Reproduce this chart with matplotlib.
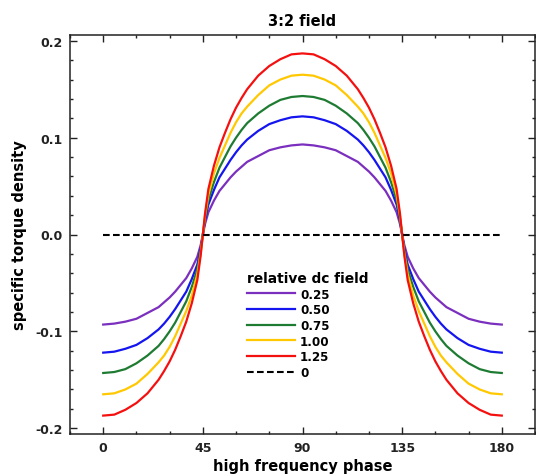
import matplotlib
matplotlib.use("Agg")
import matplotlib.pyplot as plt
from matplotlib.ticker import MultipleLocator, FormatStrFormatter

plt.rcParams['font.family'] = ['DejaVu Sans']
plt.rcParams['font.weight'] = 'bold'
plt.rcParams['axes.unicode_minus'] = False

phase = [0, 5, 10, 15, 20, 25, 27.5, 30, 32.5, 35, 37.5, 40, 42.5, 44, 45,
         46, 47.5, 50, 52.5, 55, 57.5, 60, 62.5, 65, 70, 75, 80, 85, 90,
         95, 100, 105, 110, 115, 117.5, 120, 122.5, 125, 127.5, 130, 132.5, 134,
         135,
         136, 137.5, 140, 142.5, 145, 147.5, 150, 152.5, 155, 160, 165, 170, 175, 180]

torque_025 = [-0.093, -0.092, -0.090, -0.087, -0.081, -0.075, -0.070, -0.065, -0.059, -0.052, -0.045, -0.035, -0.023, -0.011, 0.0,
              0.011, 0.023, 0.035, 0.045, 0.052, 0.059, 0.065, 0.070, 0.075, 0.081, 0.087, 0.090, 0.092, 0.093,
              0.092, 0.090, 0.087, 0.081, 0.075, 0.070, 0.065, 0.059, 0.052, 0.045, 0.035, 0.023, 0.011,
              0.0,
              -0.011, -0.023, -0.035, -0.045, -0.052, -0.059, -0.065, -0.070, -0.075, -0.081, -0.087, -0.090, -0.092, -0.093]
torque_050 = [-0.122, -0.121, -0.118, -0.114, -0.107, -0.098, -0.092, -0.085, -0.077, -0.068, -0.059, -0.046, -0.031, -0.015, 0.0,
              0.015, 0.031, 0.046, 0.059, 0.068, 0.077, 0.085, 0.092, 0.098, 0.107, 0.114, 0.118, 0.121, 0.122,
              0.121, 0.118, 0.114, 0.107, 0.098, 0.092, 0.085, 0.077, 0.068, 0.059, 0.046, 0.031, 0.015,
              0.0,
              -0.015, -0.031, -0.046, -0.059, -0.068, -0.077, -0.085, -0.092, -0.098, -0.107, -0.114, -0.118, -0.121, -0.122]
torque_075 = [-0.143, -0.142, -0.139, -0.133, -0.125, -0.115, -0.108, -0.100, -0.091, -0.080, -0.069, -0.054, -0.036, -0.017, 0.0,
              0.017, 0.036, 0.054, 0.069, 0.080, 0.091, 0.100, 0.108, 0.115, 0.125, 0.133, 0.139, 0.142, 0.143,
              0.142, 0.139, 0.133, 0.125, 0.115, 0.108, 0.100, 0.091, 0.080, 0.069, 0.054, 0.036, 0.017,
              0.0,
              -0.017, -0.036, -0.054, -0.069, -0.080, -0.091, -0.100, -0.108, -0.115, -0.125, -0.133, -0.139, -0.142, -0.143]
torque_100 = [-0.165, -0.164, -0.160, -0.154, -0.144, -0.132, -0.125, -0.116, -0.105, -0.092, -0.079, -0.063, -0.041, -0.020, 0.0,
              0.020, 0.041, 0.063, 0.079, 0.092, 0.105, 0.116, 0.125, 0.132, 0.144, 0.154, 0.160, 0.164, 0.165,
              0.164, 0.160, 0.154, 0.144, 0.132, 0.125, 0.116, 0.105, 0.092, 0.079, 0.063, 0.041, 0.020,
              0.0,
              -0.020, -0.041, -0.063, -0.079, -0.092, -0.105, -0.116, -0.125, -0.132, -0.144, -0.154, -0.160, -0.164, -0.165]
torque_125 = [-0.187, -0.186, -0.181, -0.174, -0.164, -0.150, -0.141, -0.131, -0.119, -0.105, -0.090, -0.071, -0.047, -0.022, 0.0,
              0.022, 0.047, 0.071, 0.090, 0.105, 0.119, 0.131, 0.141, 0.150, 0.164, 0.174, 0.181, 0.186, 0.187,
              0.186, 0.181, 0.174, 0.164, 0.150, 0.141, 0.131, 0.119, 0.105, 0.090, 0.071, 0.047, 0.022,
              0.0,
              -0.022, -0.047, -0.071, -0.090, -0.105, -0.119, -0.131, -0.141, -0.150, -0.164, -0.174, -0.181, -0.186, -0.187]

zero_phase = [0, 180]
zero_torque = [0.0, 0.0]

labels = ['0.25', '0.50', '0.75', '1.00', '1.25']
colors = ['#7B2FBE', '#1515F0', '#1E7B32', '#FFC800', '#F51010']
series = [torque_025, torque_050, torque_075, torque_100, torque_125]

fig = plt.figure(figsize=(5.36, 4.77), dpi=100)
ax = fig.add_axes([70/536, 1-435/477, (535-70)/536, (435-36)/477])

for vals, lab, col in zip(series, labels, colors):
    ax.plot(phase, vals, color=col, lw=1.6, label=lab)
ax.plot(zero_phase, zero_torque, color='black', lw=1.5, dashes=(3.2, 1.6), label='0')

ax.set_xlim(-15, 195)
ax.set_ylim(-0.206, 0.206)
ax.xaxis.set_major_locator(MultipleLocator(45))
ax.xaxis.set_minor_locator(MultipleLocator(15))
ax.yaxis.set_major_locator(MultipleLocator(0.1))
ax.yaxis.set_minor_locator(MultipleLocator(0.02))
ax.yaxis.set_major_formatter(FormatStrFormatter('%.1f'))
ax.tick_params(which='both', direction='in', top=True, right=True, width=1.0, colors='#222222')
ax.tick_params(which='major', length=5, labelsize=9, pad=5)
ax.tick_params(which='minor', length=2.5)
for t in ax.get_xticklabels() + ax.get_yticklabels():
    t.set_fontweight('bold')
for s in ax.spines.values():
    s.set_linewidth(1.1)
    s.set_color('#222222')

ax.set_title('3:2 field', fontsize=10.5, fontweight='bold', pad=7)
ax.set_xlabel('high frequency phase', fontsize=10.5, fontweight='bold', labelpad=3)
ax.set_ylabel('specific torque density', fontsize=10.5, fontweight='bold', labelpad=6)

leg = ax.legend(loc='upper left', bbox_to_anchor=((247-70)/465, (435-272)/399),
                frameon=False, title='relative dc field', alignment='left',
                prop={'size': 8.6, 'weight': 'bold'}, title_fontproperties={'size': 9.9, 'weight': 'bold'},
                handlelength=4.0, handletextpad=0.45, labelspacing=0.22, borderpad=0, borderaxespad=0)

fig.savefig('out.png', dpi=100)
